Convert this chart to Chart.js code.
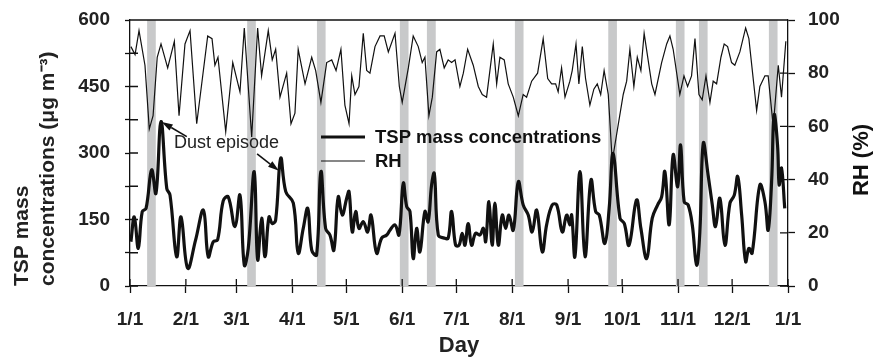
<!DOCTYPE html>
<html>
<head>
<meta charset="utf-8">
<script src="https://cdn.jsdelivr.net/npm/chart.js@4.4.1/dist/chart.umd.min.js"></script>
<style>
  body { margin: 0; background: #fff; }
  #wrap { width: 877px; height: 359px; }
</style>
</head>
<body>
<div id="wrap"><canvas id="tspChart" width="877" height="359"></canvas></div>
<script>
// day of year (0 = 1/1) and values
const tspDays = [0.5, 2.4, 4.6, 6.8, 8.9, 12, 14.4, 17.2, 20.4, 22.2, 25.9, 28.3, 32, 36.4, 40.7, 43.4, 46.2, 48.6, 51.7, 54.5,
  58.2, 61, 63.4, 65.6, 68.9, 70.8, 73, 74.9, 77.1, 78.9, 80.8, 83.6, 86.4, 90.6, 93.3, 96.1, 98.6, 100.8, 103.5, 105.9,
  108.5, 110.9, 113.1, 115.5, 117.7, 120.2, 121.5, 123.3, 125.2, 127, 129.4, 131.8, 133.7, 136.8, 139.6, 142.4, 144.2, 147, 149.2, 151.6,
  153.5, 155.3, 157.1, 159, 160.8, 163.6, 165.4, 167.3, 168.8, 171, 174.3, 176.5, 178.4, 180.6, 182.5, 184.3, 185.8, 187.6, 189.5, 191.7,
  194.1, 196, 197.3, 199.1, 200.9, 202.4, 204.3, 206.5, 208.4, 210.2, 212.6, 215.4, 218.1, 220.9, 223.1, 225.6, 228.7, 231.1, 234.2, 236.7,
  239.8, 242.2, 244, 245, 246.8, 249.6, 252.4, 255.7, 258.3, 260.3, 263.4, 265.8, 268, 271.8, 274.2, 276.8, 281, 283.4, 286.6, 289.7,
  292.7, 294.9, 296.7, 299.1, 301.3, 303.8, 305.4, 307.4, 309.6, 311.9, 314.3, 316.1, 318, 320.7, 323, 324.8, 327.2, 330, 332.8, 335.2,
  337.1, 339.3, 341.5, 343.3, 345.1, 349.4, 352.2, 354, 355.9, 357.3, 359.2, 360.1, 361.4, 363.2];
const tspValues = [100, 156, 85, 168, 175, 262, 209, 371, 220, 205, 66, 156, 40, 104, 171, 66, 100, 104, 192, 201,
  134, 205, 47, 85, 258, 59, 153, 66, 156, 141, 149, 288, 213, 187, 74, 130, 175, 81, 70, 258,
  130, 115, 81, 201, 160, 198, 213, 122, 168, 130, 145, 122, 160, 74, 108, 115, 126, 138, 115, 232,
  179, 168, 62, 130, 77, 168, 145, 228, 254, 115, 108, 108, 168, 92, 92, 119, 92, 141, 92, 119,
  115, 130, 100, 190, 92, 187, 92, 160, 130, 160, 126, 235, 183, 160, 122, 171, 77, 138, 183, 183,
  122, 160, 138, 160, 66, 258, 66, 239, 168, 160, 96, 175, 299, 153, 141, 92, 194, 130, 62, 153,
  183, 201, 258, 138, 296, 224, 318, 190, 183, 138, 47, 122, 322, 250, 183, 134, 198, 92, 187, 205,
  247, 160, 55, 85, 74, 228, 190, 126, 235, 386, 318, 228, 266, 175];

const rhDays = [0.5, 2.8, 5, 8.3, 10.7, 12.8, 15.1, 17.2, 20.9, 24.6, 27.2, 30.5, 33.3, 37, 43.1, 45.5, 47.1, 48.8, 53.1, 57,
  61, 63.4, 67.5, 70.8, 73, 76.7, 78.9, 80.8, 83.2, 86.9, 89.3, 91.5, 93.3, 97.1, 100.8, 103, 105.9, 109.1, 111.9, 114.3,
  117, 119.2, 121.5, 123, 124.8, 127, 129.4, 131.3, 133.1, 135.9, 138.7, 141, 143.3, 147, 149.4, 151, 154.4, 157.1, 159.9, 162.1,
  163.6, 165.8, 167.7, 170.1, 171.9, 174.3, 176.5, 178.4, 180.3, 183, 184.9, 187.3, 190.4, 193.2, 195.4, 197.8, 201.5, 203.4, 205.2, 207.6,
  209.8, 212.6, 215.4, 218.1, 220, 222.8, 226.1, 229.2, 231.7, 233.9, 236.1, 237.5, 239.4, 241.3, 244, 245.3, 247.4, 249, 250.9, 252.7,
  255.1, 257.3, 259.2, 261.1, 263, 265.3, 267.5, 273.6, 275.5, 277.3, 279.5, 281.4, 283.4, 285.2, 289.4, 291.2, 294.9, 297.7, 299.5, 301.3,
  305, 307.3, 309.3, 311.5, 313.4, 315.6, 317.4, 319.5, 321.7, 323.5, 325.4, 327.8, 329.6, 331.5, 333.7, 335.5, 338.3, 341.5, 343.3, 347.6,
  349.4, 352.2, 354, 356.8, 359.6, 361.4, 363.8];
const rhValues = [90, 87, 96, 83, 59, 64, 86, 91, 82, 92, 64, 91, 96, 61, 94, 93, 83, 86, 58, 84,
  73, 97, 56, 97, 79, 96, 85, 89, 71, 80, 61, 65, 89, 76, 86, 81, 69, 84, 85, 81,
  89, 68, 61, 79, 72, 75, 95, 81, 80, 90, 94, 94, 88, 95, 75, 69, 82, 94, 90, 84,
  86, 64, 71, 88, 89, 82, 85, 84, 85, 75, 80, 89, 83, 75, 72, 71, 91, 76, 86, 85,
  76, 71, 64, 72, 71, 77, 80, 93, 78, 76, 76, 73, 82, 71, 77, 81, 91, 76, 90, 78,
  68, 74, 76, 72, 81, 72, 47, 72, 77, 89, 75, 86, 81, 95, 76, 72, 84, 91, 94, 89,
  72, 79, 75, 79, 93, 72, 70, 79, 69, 77, 76, 86, 91, 90, 84, 83, 88, 97, 93, 66,
  75, 79, 79, 60, 83, 71, 92];

// dust episodes (grey bands), in days
const bandStart = [9.5, 65, 103.7, 149.7, 164.7, 213.5, 265.3, 302.8, 315.6, 354.4];
const bandEnd = [14.3, 69.8, 108.5, 154.5, 169.6, 218.3, 270.1, 307.6, 320.4, 359.2];

const tickDays = [0, 31, 59, 90, 120, 151, 181, 212, 243, 273, 304, 334, 365];
const tickLabels = ["1/1", "2/1", "3/1", "4/1", "5/1", "6/1", "7/1", "8/1", "9/1", "10/1", "11/1", "12/1", "1/1"];

const FONT = "'Liberation Sans', Arial, sans-serif";
const INK = "#111";

// grey bands behind the lines
const bandsPlugin = {
  id: "bands",
  beforeDatasetsDraw(chart) {
    const { ctx, chartArea, scales } = chart;
    ctx.save();
    ctx.fillStyle = "#c8c9ca";
    for (let i = 0; i < bandStart.length; i++) {
      const x0 = scales.x.getPixelForValue(bandStart[i]);
      const x1 = scales.x.getPixelForValue(bandEnd[i]);
      ctx.fillRect(x0, chartArea.top, x1 - x0, chartArea.bottom - chartArea.top);
    }
    ctx.restore();
  }
};

function arrow(ctx, x0, y0, x1, y1) {
  const a = Math.atan2(y1 - y0, x1 - x0);
  const L = 11, W = 3.5;
  ctx.beginPath();
  ctx.moveTo(x0, y0);
  ctx.lineTo(x1 - L * Math.cos(a), y1 - L * Math.sin(a));
  ctx.stroke();
  ctx.beginPath();
  ctx.moveTo(x1, y1);
  ctx.lineTo(x1 - L * Math.cos(a) + W * Math.sin(a), y1 - L * Math.sin(a) - W * Math.cos(a));
  ctx.lineTo(x1 - L * Math.cos(a) - W * Math.sin(a), y1 - L * Math.sin(a) + W * Math.cos(a));
  ctx.closePath();
  ctx.fill();
}

// frame top, inward tick marks, legend, annotation, right title
const extrasPlugin = {
  id: "extras",
  afterDraw(chart) {
    const { ctx, chartArea, scales } = chart;
    const { x, y, y2 } = scales;
    ctx.save();
    ctx.strokeStyle = INK;
    ctx.fillStyle = INK;
    ctx.lineWidth = 1.3;

    ctx.beginPath();
    ctx.moveTo(chartArea.left, chartArea.top);
    ctx.lineTo(chartArea.right, chartArea.top);
    x.ticks.forEach(t => {
      const px = x.getPixelForValue(t.value);
      ctx.moveTo(px, chartArea.bottom);
      ctx.lineTo(px, chartArea.bottom - 7);
    });
    y.ticks.forEach(t => {
      const py = y.getPixelForValue(t.value);
      ctx.moveTo(chartArea.left, py);
      ctx.lineTo(chartArea.left + 8, py);
    });
    y2.ticks.forEach(t => {
      const py = y2.getPixelForValue(t.value);
      ctx.moveTo(chartArea.right, py);
      ctx.lineTo(chartArea.right - 8, py);
    });
    ctx.stroke();

    // legend
    const lx = chartArea.left + 191, ly = chartArea.top + 117;
    chart.data.datasets.forEach((ds, i) => {
      const yy = ly + i * 24;
      ctx.lineWidth = ds.borderWidth;
      ctx.beginPath();
      ctx.moveTo(lx, yy);
      ctx.lineTo(lx + 44, yy);
      ctx.stroke();
      ctx.font = "bold 18.5px " + FONT;
      ctx.textBaseline = "middle";
      ctx.textAlign = "left";
      ctx.fillText(ds.label, lx + 54, yy + 1);
    });

    // "Dust episode" annotation
    ctx.font = "18px " + FONT;
    ctx.fillStyle = "#222";
    ctx.textBaseline = "middle";
    ctx.fillText("Dust episode", x.getPixelForValue(24.4), y.getPixelForValue(322));
    ctx.fillStyle = INK;
    ctx.lineWidth = 1.6;
    arrow(ctx, x.getPixelForValue(31.5), y.getPixelForValue(337), x.getPixelForValue(17.6), y.getPixelForValue(370));
    arrow(ctx, x.getPixelForValue(70.5), y.getPixelForValue(298), x.getPixelForValue(82.6), y.getPixelForValue(260));

    // right axis title, reading bottom to top
    ctx.font = "bold 22px " + FONT;
    ctx.textAlign = "center";
    ctx.translate(862, (chartArea.top + chartArea.bottom) / 2 + 7);
    ctx.rotate(-Math.PI / 2);
    ctx.fillText("RH (%)", 0, 0);
    ctx.restore();
  }
};

const tickFont = { family: FONT, size: 19, weight: "bold" };

new Chart(document.getElementById("tspChart").getContext("2d"), {
  type: "line",
  data: {
    datasets: [
      {
        label: "TSP mass concentrations",
        data: tspDays.map((d, i) => ({ x: d, y: tspValues[i] })),
        yAxisID: "y",
        borderColor: INK,
        borderWidth: 3.2,
        tension: 0.4,
        pointRadius: 0,
        fill: false
      },
      {
        label: "RH",
        data: rhDays.map((d, i) => ({ x: d, y: rhValues[i] })),
        yAxisID: "y2",
        borderColor: INK,
        borderWidth: 1.2,
        tension: 0,
        pointRadius: 0,
        fill: false
      }
    ]
  },
  options: {
    responsive: false,
    animation: false,
    devicePixelRatio: 1,
    layout: { padding: { top: 20, left: 0, right: 0, bottom: 0 } },
    plugins: { legend: { display: false }, tooltip: { enabled: false } },
    scales: {
      x: {
        type: "linear",
        min: 0,
        max: 365,
        afterBuildTicks: s => { s.ticks = tickDays.map(v => ({ value: v })); },
        afterFit: s => { s.height = 73; s.paddingLeft = 0; s.paddingRight = 0; },
        ticks: {
          autoSkip: false,
          maxRotation: 0,
          padding: 15,
          color: "#222",
          font: tickFont,
          callback: (v, i) => tickLabels[i]
        },
        grid: { drawOnChartArea: false, tickLength: 7, tickColor: INK, tickWidth: 1.3 },
        border: { color: INK, width: 1.3 },
        title: { display: true, text: "Day", color: "#222", font: { family: FONT, size: 22, weight: "bold" }, padding: { top: 0, bottom: 0 } }
      },
      y: {
        position: "left",
        min: 0,
        max: 600,
        afterFit: s => { s.width = 130; s.paddingTop = 0; s.paddingBottom = 0; },
        ticks: {
          stepSize: 75,
          padding: 15,
          color: "#222",
          font: tickFont,
          callback: v => (v % 150 === 0 ? v : "")
        },
        grid: { drawOnChartArea: false, tickLength: 5, tickColor: INK, tickWidth: 1.3 },
        border: { color: INK, width: 1.3 },
        title: {
          display: true,
          align: "start",
          text: ["TSP mass", "concentrations (\u03bcg m\u207b\u00b3)"],
          color: "#222",
          font: { family: FONT, size: 21, weight: "bold", lineHeight: 1.24 },
          padding: { top: 9, bottom: 0 }
        }
      },
      y2: {
        position: "right",
        min: 0,
        max: 100,
        afterFit: s => { s.width = 89; s.paddingTop = 0; s.paddingBottom = 0; },
        ticks: { stepSize: 20, padding: 13, color: "#222", font: tickFont },
        grid: { drawOnChartArea: false, tickLength: 7, tickColor: INK, tickWidth: 1.3 },
        border: { color: INK, width: 1.3 }
      }
    }
  },
  plugins: [bandsPlugin, extrasPlugin]
});
</script>
</body>
</html>
